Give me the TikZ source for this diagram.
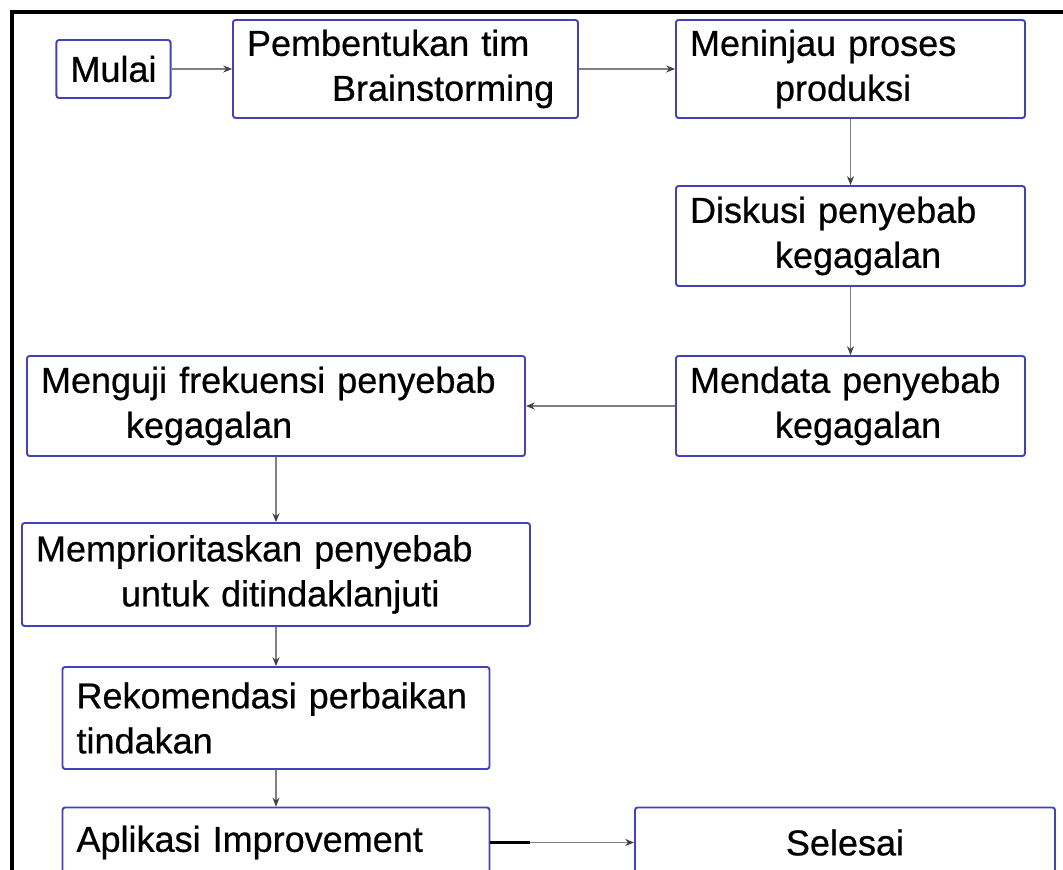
\documentclass[tikz,border=0pt]{standalone}
\usepackage{fontspec}
\setmainfont{Liberation Sans}
\newfontfamily\kotakfont{Liberation Sans}[FakeBold=0.6]
\usepackage{tikz}
\usetikzlibrary{
	arrows.meta,
	positioning,
	calc
}
\usepackage{xcolor}
\definecolor{boxblue}{RGB}{66,66,186}
\definecolor{linegray}{RGB}{128,128,128}
\newcommand{\ind}{\hspace*{1.7cm}}

\begin{document}
\begin{tikzpicture}[
		>={Stealth[length=5pt,width=4pt,color=black!75]},
		proses/.style={
			draw=boxblue,
			line width=1.1pt,
			rounded corners=1.5pt,
			inner xsep=0.28cm,
			inner ysep=0pt,
			align=left,
			font=\kotakfont\fontsize{20.5}{25.6}\selectfont
		},
		panah/.style={
			->,
			draw=linegray,
			line width=0.8pt
		}
		]
		
		\clip (0,0) rectangle (21.26,17.4);
		
		% Frame
		\draw[line width=2.3pt] (21.3,17.16) -- (0.24,17.16) -- (0.24,-0.1);
		
		% Top row
		\node[proses, align=center, minimum width=2.26cm, minimum height=1.16cm] (mulai) at (2.27,16.02) {Mulai};
		\node[proses, text width=6.34cm, minimum height=1.96cm] (tim) at (8.11,16.02) {Pembentukan tim\\\ind Brainstorming};
		\node[proses, text width=6.42cm, minimum height=1.96cm] (tinjau) at (17.01,16.02) {Meninjau proses\\\ind produksi};
		
		% Right column
		\node[proses, text width=6.42cm, minimum height=2cm] (diskusi) at (17.01,12.68) {Diskusi penyebab\\\ind kegagalan};
		\node[proses, text width=6.42cm, minimum height=2cm] (mendata) at (17.01,9.28) {Mendata penyebab\\\ind kegagalan};
		
		% Left column
		\node[proses, text width=9.4cm, minimum height=2cm] (menguji) at (5.52,9.28) {Menguji frekuensi penyebab\\\ind kegagalan};
		\node[proses, text width=9.6cm, minimum height=2.06cm] (prioritas) at (5.52,5.91) {Memprioritaskan penyebab\\\ind untuk ditindaklanjuti};
		\node[proses, text width=7.98cm, minimum height=2.04cm] (rekomendasi) at (5.52,3.04) {Rekomendasi perbaikan\\tindakan};
		
		% Bottom row
		\node[proses, text width=7.98cm, minimum height=1.4cm] (aplikasi) at (5.52,0.55) {Aplikasi Improvement};
		\node[proses, align=center, minimum width=8.4cm, minimum height=1.4cm] (selesai) at (16.9,0.55) {Selesai};
		
		% Connections
		\draw[panah] (mulai.east) -- (tim.west);
		\draw[panah] (tim.east) -- (tinjau.west);
		\draw[panah] (tinjau.south) -- (diskusi.north);
		\draw[panah] (diskusi.south) -- (mendata.north);
		\draw[panah] (mendata.west) -- (menguji.east);
		\draw[panah] (menguji.south) -- (prioritas.north);
		\draw[panah] (prioritas.south) -- (rekomendasi.north);
		\draw[panah] (rekomendasi.south) -- (aplikasi.north);
		\draw[panah] (aplikasi.east) -- (selesai.west);
		\draw[line width=1.6pt] (aplikasi.east) -- ++(0.8,0);
		
	\end{tikzpicture}
\end{document}
